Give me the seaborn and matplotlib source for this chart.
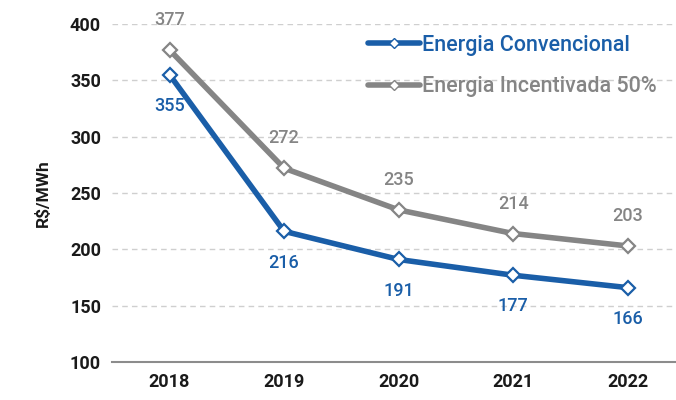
import matplotlib
matplotlib.use("Agg")
import matplotlib.pyplot as plt
import seaborn as sns
import pandas as pd
from matplotlib.lines import Line2D

years = ["2018", "2019", "2020", "2021", "2022"]
convencional = [355, 216, 191, 177, 166]
incentivada = [377, 272, 235, 214, 203]
series_names = ["Energia Convencional", "Energia Incentivada 50%"]

BLUE = "#1a5ea8"
GREY = "#858585"

sns.set_theme(style="white")
plt.rcParams["font.family"] = ["Roboto", "DejaVu Sans"]

df = pd.DataFrame({
    "ano": years * 2,
    "valor": convencional + incentivada,
    "serie": [series_names[0]] * 5 + [series_names[1]] * 5,
})

fig = plt.figure(figsize=(6.76, 4.0), dpi=100)
ax = fig.add_axes([0.166, 0.095, 0.834, 0.845])

sns.lineplot(data=df, x="ano", y="valor", hue="serie",
             palette={series_names[0]: BLUE, series_names[1]: GREY},
             hue_order=[series_names[1], series_names[0]],
             marker="D", markersize=7, markerfacecolor="white", markeredgewidth=1.6,
             linewidth=4, ax=ax, legend=False)
for ln in ax.lines:
    ln.set_markeredgecolor(ln.get_color())

for i, v in enumerate(convencional):
    ax.annotate(str(v), (i, v), xytext=(0, -16), textcoords="offset points",
                ha="center", va="top", color=BLUE, fontsize=13, fontweight="medium")
for i, v in enumerate(incentivada):
    ax.annotate(str(v), (i, v), xytext=(0, 15), textcoords="offset points",
                ha="center", va="bottom", color=GREY, fontsize=13, fontweight="medium")

ax.set_ylim(100, 400)
ax.set_xlim(-0.5, 4.42)
ax.set_yticks([100, 150, 200, 250, 300, 350, 400])
ax.yaxis.grid(True, linestyle=(0, (4, 3)), color="#cfcfcf", linewidth=1)
ax.set_axisbelow(True)
for s in ["top", "right", "left"]:
    ax.spines[s].set_visible(False)
ax.spines["bottom"].set_color("#8c8c8c")
ax.spines["bottom"].set_linewidth(1.5)
ax.tick_params(axis="both", length=0, labelsize=13, pad=8)
for t in ax.get_xticklabels() + ax.get_yticklabels():
    t.set_fontweight("bold")
    t.set_color("#1a1a1a")
ax.set_xlabel("")
ax.set_ylabel("R$/MWh", fontsize=12.5, fontweight="bold", color="#1a1a1a", labelpad=14)

handles = [Line2D([], [], color=BLUE, lw=4, marker="D", markersize=5,
                  markerfacecolor="white", markeredgecolor=BLUE),
           Line2D([], [], color=GREY, lw=4, marker="D", markersize=5,
                  markerfacecolor="white", markeredgecolor=GREY)]
leg = ax.legend(handles, series_names, loc="upper right", bbox_to_anchor=(1.0, 1.025),
                frameon=False, fontsize=15.5, handlelength=2.4, handletextpad=0.1,
                labelspacing=0.95)
for t, c in zip(leg.get_texts(), [BLUE, GREY]):
    t.set_color(c)
    t.set_fontweight("medium")

fig.savefig("out.png", dpi=100)
